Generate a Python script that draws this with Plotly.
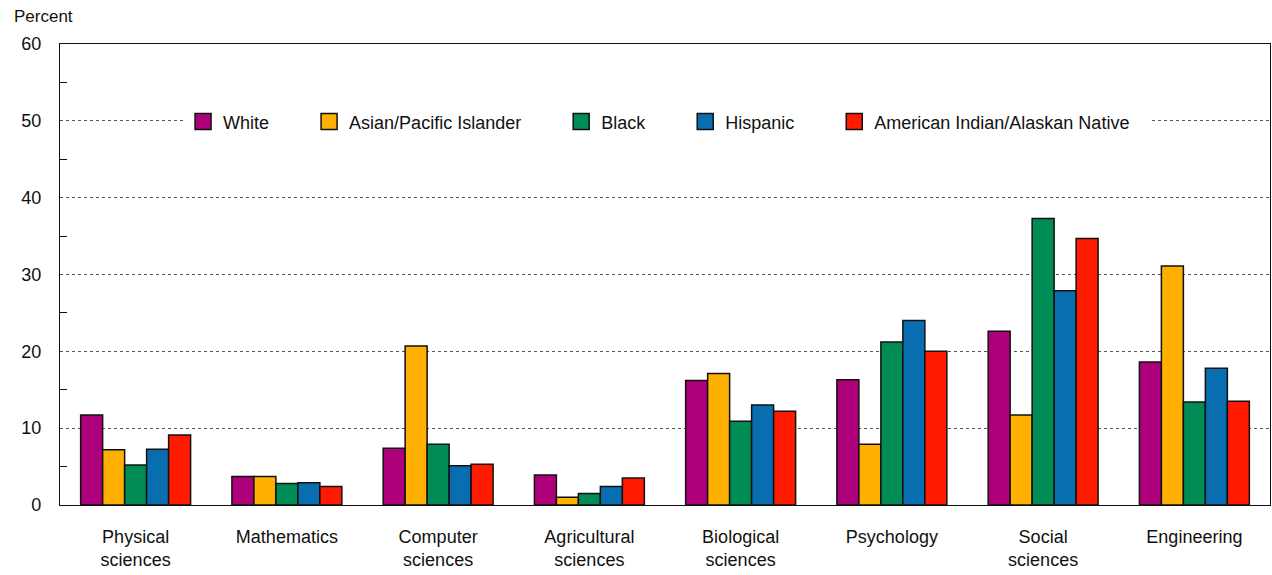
import plotly.graph_objects as go

categories = ["Physical<br>sciences", "Mathematics", "Computer<br>sciences", "Agricultural<br>sciences",
              "Biological<br>sciences", "Psychology", "Social<br>sciences", "Engineering"]
series_names = ["White", "Asian/Pacific Islander", "Black", "Hispanic", "American Indian/Alaskan Native"]
white = [11.7, 3.7, 7.4, 3.9, 16.2, 16.3, 22.6, 18.6]
asian = [7.2, 3.7, 20.7, 1.0, 17.1, 7.9, 11.7, 31.1]
black = [5.2, 2.8, 7.9, 1.5, 10.9, 21.2, 37.3, 13.4]
hispanic = [7.25, 2.9, 5.1, 2.4, 13.0, 24.0, 27.9, 17.8]
aian = [9.1, 2.4, 5.3, 3.5, 12.2, 20.0, 34.7, 13.5]
colors = ["#AD007A", "#FFB000", "#008C55", "#086EB0", "#FF1A00"]

FONT = "Liberation Sans, Arial, sans-serif"
PAD = "\u00a0" * 7

fig = go.Figure()
all_vals = [white, asian, black, hispanic, aian]
for name, vals, col in zip(series_names, all_vals, colors):
    fig.add_trace(go.Bar(x=categories, y=vals, name=name, showlegend=False,
                         marker=dict(color=col, line=dict(color="#111111", width=1.5))))
for i, (name, col) in enumerate(zip(series_names, colors)):
    label = name + (PAD if i < len(series_names) - 1 else "\u00a0" * 3)
    fig.add_trace(go.Scatter(x=[None], y=[None], mode="markers", name=label, showlegend=True,
                             hoverinfo="skip",
                             marker=dict(symbol="square", size=20, color=col,
                                         line=dict(color="#111111", width=1.5))))

fig.update_layout(
    width=1272, height=575,
    barmode="group", bargap=0.273, bargroupgap=0,
    plot_bgcolor="white", paper_bgcolor="white",
    margin=dict(l=60, r=2, t=44, b=70, autoexpand=False),
    font=dict(family=FONT, size=18, color="#111111"),
    showlegend=True,
    legend=dict(orientation="h", x=0.1017, xanchor="left", y=0.831, yanchor="middle",
                bgcolor="white", font=dict(size=18), traceorder="normal",
                itemsizing="trace", itemwidth=30),
    xaxis=dict(showline=True, linecolor="#111111", linewidth=1.2, mirror=True, automargin=False,
               ticks="", tickfont=dict(size=18), ticklabelstandoff=15),
    yaxis=dict(range=[0, 60], dtick=10, showline=True, linecolor="#111111", linewidth=1.2,
               mirror=True, showgrid=True, gridcolor="#555555", griddash="3px,3px", gridwidth=1,
               ticks="", tickfont=dict(size=18), ticklabelstandoff=14, zeroline=False,
               automargin=False,
               minor=dict(dtick=5, ticks="inside", ticklen=7, tickcolor="#111111", showgrid=False)),
    annotations=[dict(text="Percent", xref="paper", yref="paper", x=-0.0397, y=1.0586,
                      xanchor="left", yanchor="middle", showarrow=False, font=dict(size=17))],
)
fig.write_html("out.html", config={"displayModeBar": False},
               post_script="document.body.style.margin='0';document.body.style.overflow='hidden';")
